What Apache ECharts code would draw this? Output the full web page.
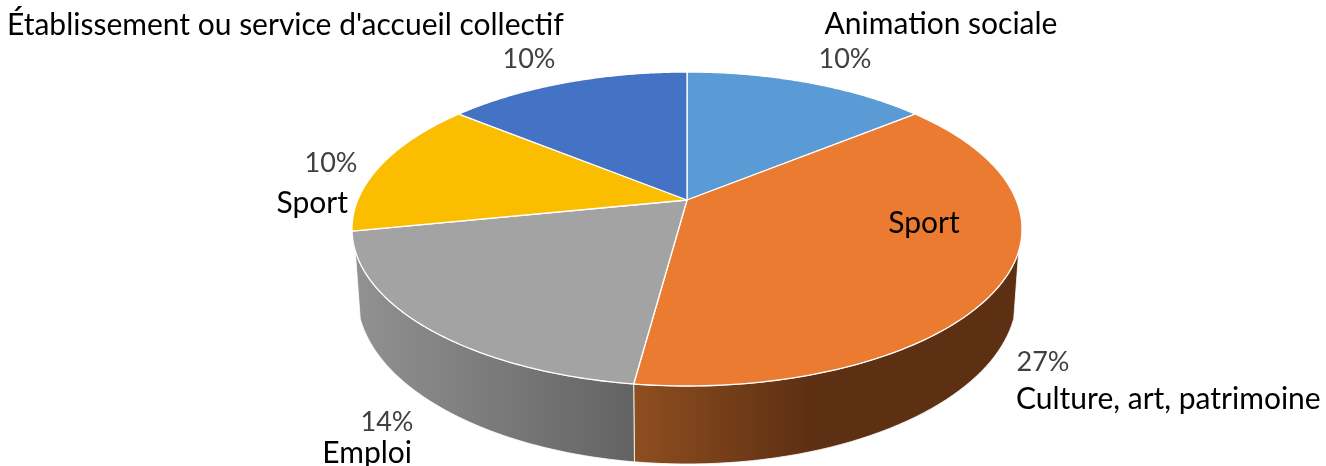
<!DOCTYPE html>
<html>
<head>
<meta charset="utf-8">
<style>html,body{margin:0;padding:0;background:#fff}#c{width:1326px;height:466px}</style>
<script src="https://cdn.jsdelivr.net/npm/echarts@6/dist/echarts.min.js"></script>
</head>
<body>
<div id="c"></div>
<script>
// ---- data ----
const categories = ['Animation sociale', 'Culture, art, patrimoine', 'Emploi', 'Sport', "Établissement ou service d'accueil collectif"];
const values = [10, 27, 14, 10, 10];
const percentLabels = ['10%', '27%', '14%', '10%', '10%'];
const innerLabel = 'Sport';

// ---- styling and layout ----
const faceColors = ['#5B9BD5', '#EA7B31', '#A3A3A3', '#FBBD00', '#4472C4'];
const wallStops = {
  1: { x0: 634, x1: 1022, stops: [[0, '#8E4E20'], [0.45, '#5E3013'], [1, '#5E3013']] },
  2: { x0: 352, x1: 634, stops: [[0, '#929292'], [1, '#636363']] }
};
const top_ = { cx: 687, cy: 229, rx: 335, ry: 157, apexY: 200 };
const bottom_ = { cx: 687, cy: 295, rx: 330, ry: 169 };
const wallFrom = 98, wallTo = 262;   // visible part of the rim, degrees clockwise from the top
const catPos = [[941, 24, 'center'], [1016, 399, 'left'], [412, 453, 'right'], [348, 203, 'right'], [7, 25, 'left']];
const pctPos = [[845, 59], [1043, 362], [387, 422], [331, 163], [529, 59]];
const innerPos = [924, 223];
const catFont = 30, pctFont = 27;
const fontFamily = 'Lato, "Open Sans", sans-serif';

// ---- geometry: a tilted disc, angle on the disc -> point on its rim ----
const tilt = (top_.cy - top_.apexY) / top_.ry;
function rimUnit(deg) {
  const a = deg * Math.PI / 180, s = Math.sin(a), c = Math.cos(a);
  const d = 1 + tilt * c;
  return [s * Math.sqrt(1 - tilt * tilt) / d, (c + tilt) / d];
}
const onEllipse = (e, u) => [e.cx + e.rx * u[0], e.cy - e.ry * u[1]];
const total = values.reduce((a, b) => a + b, 0);

function renderItem(params, api) {
  const i = params.dataIndex;
  let start = 0;
  for (let k = 0; k < i; k++) start += values[k];
  const a0 = start / total * 360;
  const a1 = (start + api.value(0)) / total * 360;
  const children = [];

  // side wall (only the front of the disc is seen)
  const rimAngle = d => { const u = rimUnit(d); let t = Math.atan2(u[0], u[1]) * 180 / Math.PI; return t < 0 ? t + 360 : t; };
  const w = wallStops[i];
  if (w) {
    const upper = [], lower = [];
    const N = 80;
    for (let n = 0; n <= N; n++) {
      const u = rimUnit(a0 + (a1 - a0) * n / N);
      const t = rimAngle(a0 + (a1 - a0) * n / N);
      if (t < wallFrom || t > wallTo) continue;
      upper.push(onEllipse(top_, u));
      lower.push(onEllipse(bottom_, u));
    }
    // close exactly on the rim limits
    const limit = t => { const r = t * Math.PI / 180; return [Math.sin(r), Math.cos(r)]; };
    if (i === 1) { upper.unshift(onEllipse(top_, limit(wallFrom))); lower.unshift(onEllipse(bottom_, limit(wallFrom))); }
    if (i === 2) { upper.push(onEllipse(top_, limit(wallTo))); lower.push(onEllipse(bottom_, limit(wallTo))); }
    children.push({
      type: 'polygon',
      shape: { points: upper.concat(lower.reverse()) },
      style: {
        fill: new echarts.graphic.LinearGradient(w.x0, 0, w.x1, 0,
          w.stops.map(s => ({ offset: s[0], color: s[1] })), true),
        stroke: '#fff', lineWidth: 0.8
      }
    });
  }

  // top face
  const pts = [[top_.cx, top_.apexY]];
  const M = 120;
  for (let n = 0; n <= M; n++) pts.push(onEllipse(top_, rimUnit(a0 + (a1 - a0) * n / M)));
  children.push({
    type: 'polygon',
    shape: { points: pts },
    style: { fill: faceColors[i], stroke: '#fff', lineWidth: 1.3, lineJoin: 'round' }
  });
  return { type: 'group', children };
}

function labelGraphics() {
  const out = [];
  const add = (text, x, y, align, size, color) => out.push({
    type: 'text', x, y, z: 10, silent: true,
    style: { text, x: 0, y: 0, align, verticalAlign: 'middle', fill: color,
             font: size + 'px ' + fontFamily }
  });
  categories.forEach((c, i) => add(c, catPos[i][0], catPos[i][1], catPos[i][2], catFont, '#000'));
  percentLabels.forEach((p, i) => add(p, pctPos[i][0], pctPos[i][1], 'center', pctFont, '#404040'));
  add(innerLabel, innerPos[0], innerPos[1], 'center', catFont, '#000');
  return out;
}

const chart = echarts.init(document.getElementById('c'), null, { renderer: 'canvas' });
chart.setOption({
  animation: false,
  backgroundColor: '#fff',
  graphic: { elements: labelGraphics() },
  series: [{
    type: 'custom',
    coordinateSystem: 'none',
    renderItem,
    silent: true,
    data: values.map((v, i) => ({ name: categories[i], value: [v] }))
  }]
});
</script>
</body>
</html>
